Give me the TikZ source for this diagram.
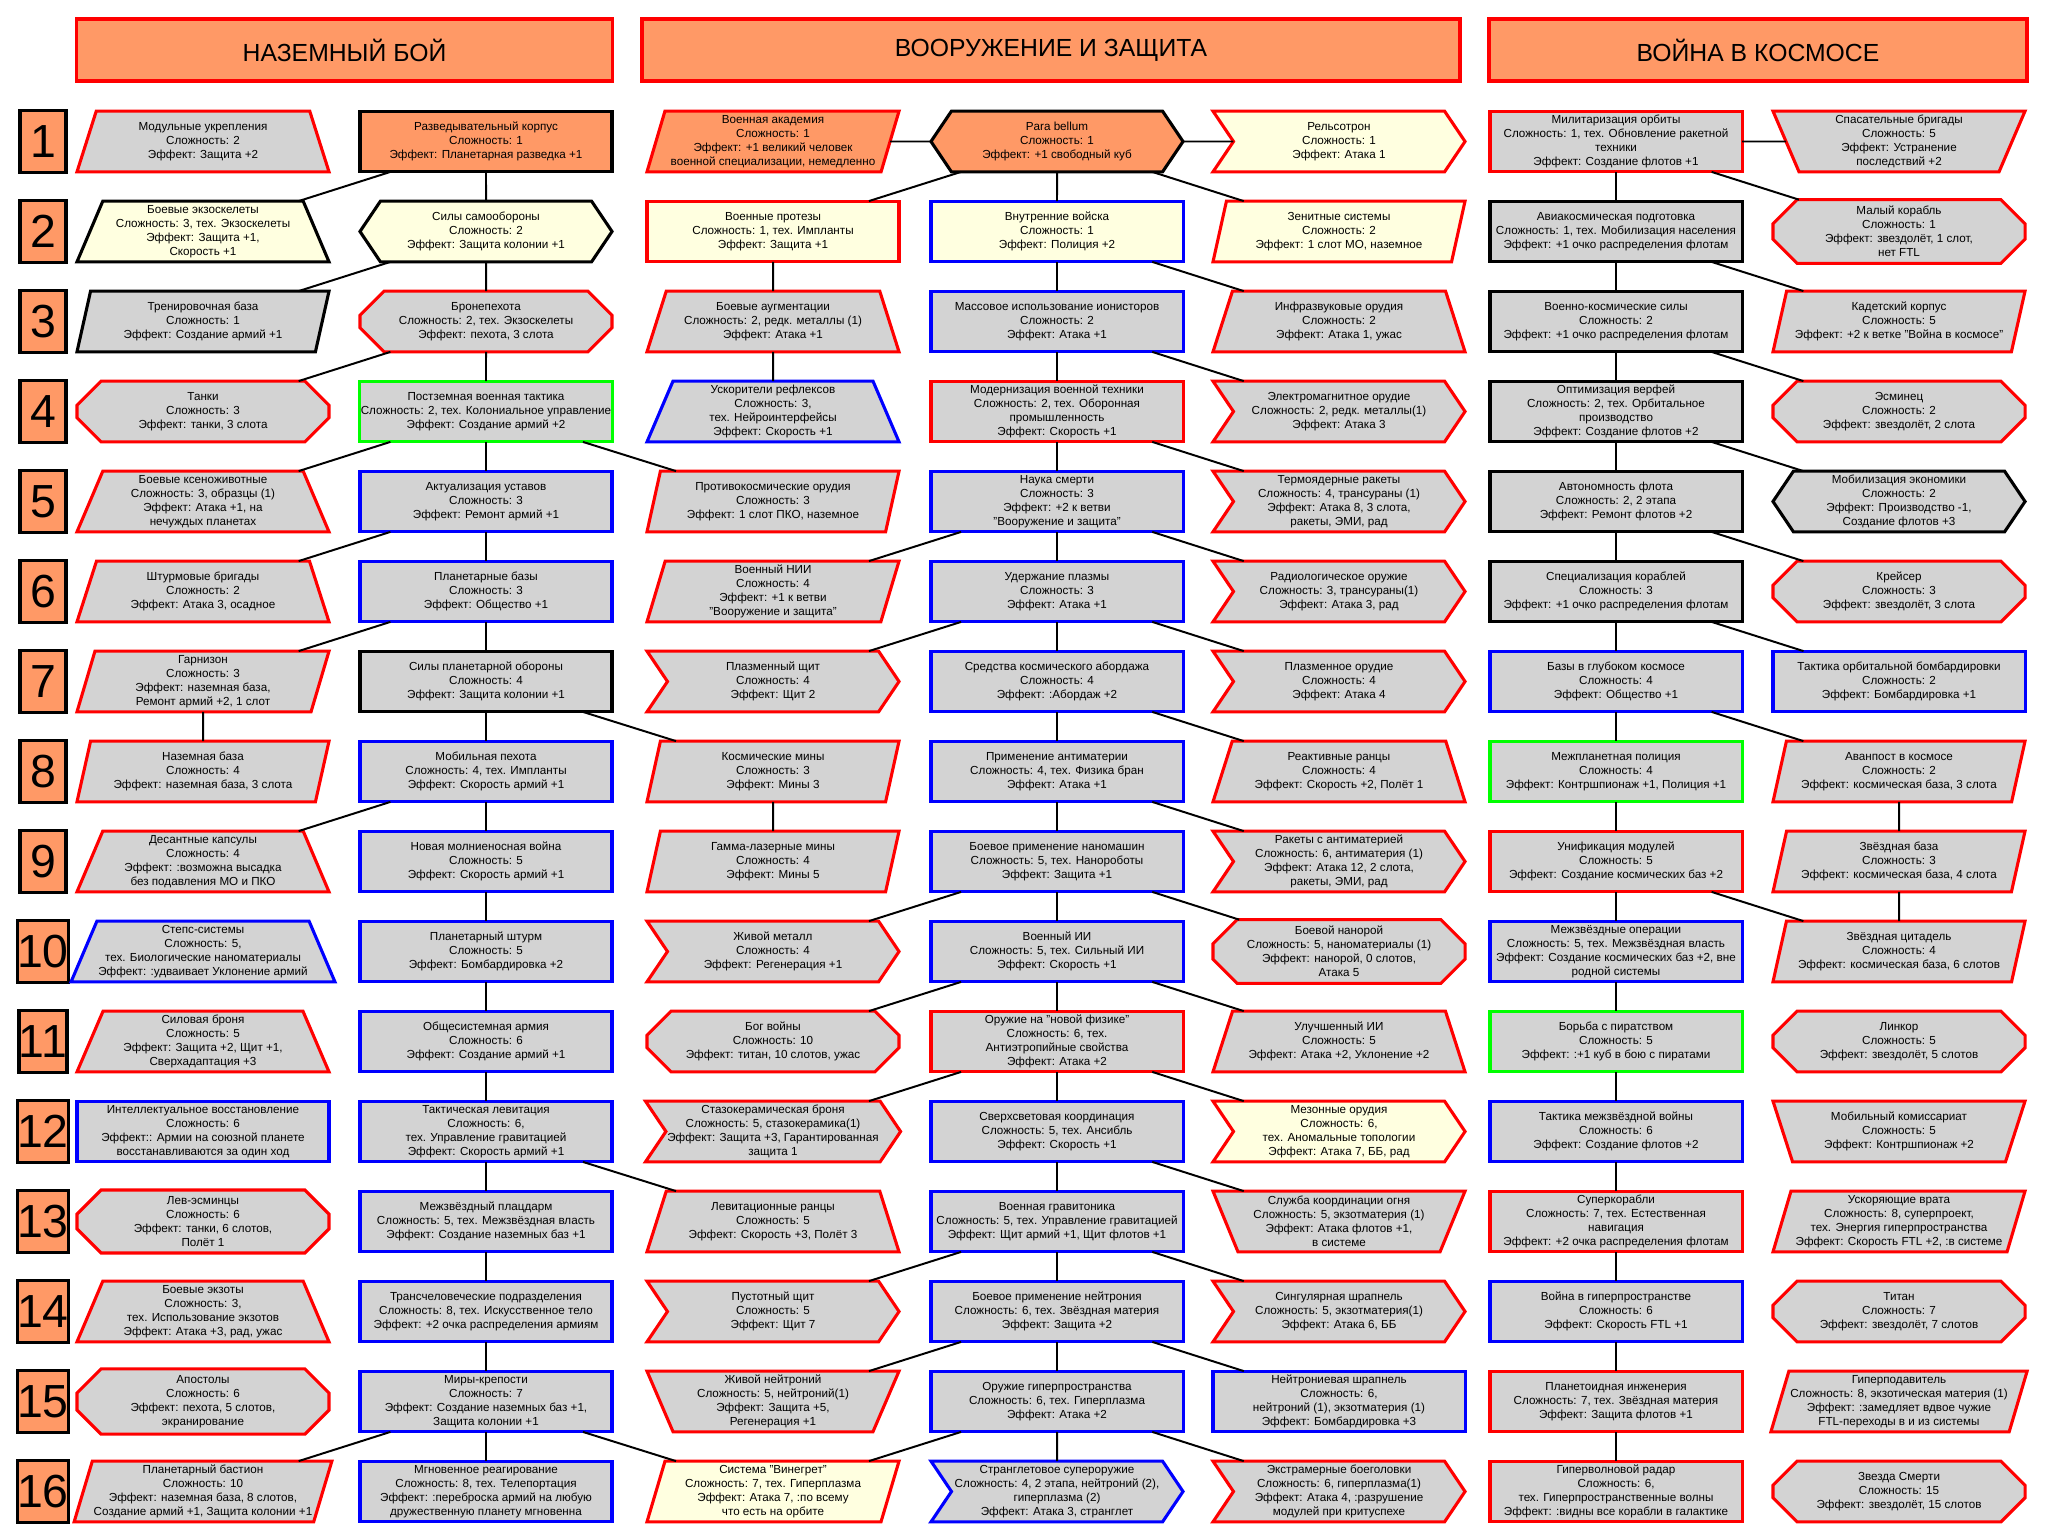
\documentclass[tikz,border=0pt]{standalone}
\usepackage{fontspec}
\setmainfont{Liberation Sans}
\usetikzlibrary{shapes.geometric,shapes.symbols,shapes.misc}

\definecolor{orng}{RGB}{255,153,102}
\definecolor{lgrey}{RGB}{211,211,211}
\definecolor{lyel}{RGB}{255,255,224}
\definecolor{tred}{RGB}{255,0,0}
\definecolor{tblue}{RGB}{0,0,255}
\definecolor{tgreen}{RGB}{0,255,0}
\newcommand{\techfont}{\fontsize{8.3}{10}\selectfont}

\tikzset{
  tech/.style={minimum width=6.3cm, minimum height=1.52cm, inner sep=1pt, outer sep=0pt,
    align=center, font=\techfont, line width=2.2pt, fill=lgrey},
  tbox/.style={tech, rectangle},
  ttrap/.style={tech, trapezium, trapezium left angle=65, trapezium right angle=65, trapezium stretches body},
  titrap/.style={ttrap, shape border rotate=180},
  tpara/.style={tech, trapezium, trapezium left angle=72, trapezium right angle=108, trapezium stretches body},
  thex/.style={tech, signal, signal to=west and east, signal pointer angle=112},
  tchev/.style={tech, signal, signal to=east, signal from=west, signal pointer angle=112},
  toct/.style={tech, chamfered rectangle, chamfered rectangle xsep=0.48cm},
  rd/.style={draw=tred}, bl/.style={draw=tblue}, bk/.style={draw=black}, gn/.style={draw=tgreen},
  ye/.style={fill=lyel}, og/.style={fill=orng},
  link/.style={line width=1.4pt},
  numbox/.style={draw=black, fill=orng, line width=2.4pt, minimum width=1.15cm, minimum height=1.55cm,
    inner sep=0pt, font=\fontsize{33}{36}\selectfont},
  headbox/.style={draw=tred, fill=orng, line width=2.4pt, minimum height=1.55cm,
    font=\fontsize{17.6}{20}\selectfont},
}

\begin{document}
\begin{tikzpicture}[x=0.025cm,y=-0.025cm]

\useasboundingbox (0,0) rectangle (2058,1537);

\def\ro{51.5}; \def\rh{90};
\def\xgs{203}; \def\xgm{486};
\def\xwl{773}; \def\xwm{1057}; \def\xwr{1339};
\def\xsm{1616}; \def\xss{1899};

% headers
\node[headbox, minimum width=13.4cm] (hground) at (344.5,50) {НАЗЕМНЫЙ БОЙ};
\node[headbox, minimum width=20.45cm] (hweapon) at (1051,50) {ВООРУЖЕНИЕ И ЗАЩИТА};
\node[headbox, minimum width=13.45cm] (hspace) at (1758,50) {ВОЙНА В КОСМОСЕ};

% row numbers
\foreach \k in {1,...,16}{
\node[numbox] (n\k) at (43,\ro+\rh*\k) {\k};
}

% ground war
\node[ttrap,rd] (gs1) at (\xgs,\ro+\rh*1) {Модульные укрепления\\Сложность: 2\\Эффект: Защита +2};
\node[ttrap,bk,ye] (gs2) at (\xgs,\ro+\rh*2) {Боевые экзоскелеты\\Сложность: 3, тех. Экзоскелеты\\Эффект: Защита +1,\\Скорость +1};
\node[tpara,bk] (gs3) at (\xgs,\ro+\rh*3) {Тренировочная база\\Сложность: 1\\Эффект: Создание армий +1};
\node[toct,rd] (gs4) at (\xgs,\ro+\rh*4) {Танки\\Сложность: 3\\Эффект: танки, 3 слота};
\node[ttrap,rd] (gs5) at (\xgs,\ro+\rh*5) {Боевые ксеноживотные\\Сложность: 3, образцы (1)\\Эффект: Атака +1, на\\нечуждых планетах};
\node[ttrap,rd] (gs6) at (\xgs,\ro+\rh*6) {Штурмовые бригады\\Сложность: 2\\Эффект: Атака 3, осадное};
\node[tpara,rd] (gs7) at (\xgs,\ro+\rh*7) {Гарнизон\\Сложность: 3\\Эффект: наземная база,\\Ремонт армий +2, 1 слот};
\node[tpara,rd] (gs8) at (\xgs,\ro+\rh*8) {Наземная база\\Сложность: 4\\Эффект: наземная база, 3 слота};
\node[ttrap,rd] (gs9) at (\xgs,\ro+\rh*9) {Десантные капсулы\\Сложность: 4\\Эффект: :возможна высадка\\без подавления МО и ПКО};
\node[ttrap,bl] (gs10) at (\xgs,\ro+\rh*10) {Степс-системы\\Сложность: 5,\\тех. Биологические наноматериалы\\Эффект: :удваивает Уклонение армий};
\node[ttrap,rd] (gs11) at (\xgs,\ro+\rh*11) {Силовая броня\\Сложность: 5\\Эффект: Защита +2, Щит +1,\\Сверхадаптация +3};
\node[tbox,bl] (gs12) at (\xgs,\ro+\rh*12) {Интеллектуальное восстановление\\Сложность: 6\\Эффект:: Армии на союзной планете\\восстанавливаются за один ход};
\node[toct,rd] (gs13) at (\xgs,\ro+\rh*13) {Лев-эсминцы\\Сложность: 6\\Эффект: танки, 6 слотов,\\Полёт 1};
\node[ttrap,rd] (gs14) at (\xgs,\ro+\rh*14) {Боевые экзоты\\Сложность: 3,\\тех. Использование экзотов\\Эффект: Атака +3, рад, ужас};
\node[toct,rd] (gs15) at (\xgs,\ro+\rh*15) {Апостолы\\Сложность: 6\\Эффект: пехота, 5 слотов,\\экранирование};
\node[tpara,rd] (gs16) at (\xgs,\ro+\rh*16) {Планетарный бастион\\Сложность: 10\\Эффект: наземная база, 8 слотов,\\Создание армий +1, Защита колонии +1};

\node[tbox,bk,og] (gm1) at (\xgm,\ro+\rh*1) {Разведывательный корпус\\Сложность: 1\\Эффект: Планетарная разведка +1};
\node[thex,bk,ye] (gm2) at (\xgm,\ro+\rh*2) {Силы самообороны\\Сложность: 2\\Эффект: Защита колонии +1};
\node[toct,rd] (gm3) at (\xgm,\ro+\rh*3) {Бронепехота\\Сложность: 2, тех. Экзоскелеты\\Эффект: пехота, 3 слота};
\node[tbox,gn] (gm4) at (\xgm,\ro+\rh*4) {Постземная военная тактика\\Сложность: 2, тех. Колониальное управление\\Эффект: Создание армий +2};
\node[tbox,bl] (gm5) at (\xgm,\ro+\rh*5) {Актуализация уставов\\Сложность: 3\\Эффект: Ремонт армий +1};
\node[tbox,bl] (gm6) at (\xgm,\ro+\rh*6) {Планетарные базы\\Сложность: 3\\Эффект: Общество +1};
\node[tbox,bk] (gm7) at (\xgm,\ro+\rh*7) {Силы планетарной обороны\\Сложность: 4\\Эффект: Защита колонии +1};
\node[tbox,bl] (gm8) at (\xgm,\ro+\rh*8) {Мобильная пехота\\Сложность: 4, тех. Импланты\\Эффект: Скорость армий +1};
\node[tbox,bl] (gm9) at (\xgm,\ro+\rh*9) {Новая молниеносная война\\Сложность: 5\\Эффект: Скорость армий +1};
\node[tbox,bl] (gm10) at (\xgm,\ro+\rh*10) {Планетарный штурм\\Сложность: 5\\Эффект: Бомбардировка +2};
\node[tbox,bl] (gm11) at (\xgm,\ro+\rh*11) {Общесистемная армия\\Сложность: 6\\Эффект: Создание армий +1};
\node[tbox,bl] (gm12) at (\xgm,\ro+\rh*12) {Тактическая левитация\\Сложность: 6,\\тех. Управление гравитацией\\Эффект: Скорость армий +1};
\node[tbox,bl] (gm13) at (\xgm,\ro+\rh*13) {Межзвёздный плацдарм\\Сложность: 5, тех. Межзвёздная власть\\Эффект: Создание наземных баз +1};
\node[tbox,bl] (gm14) at (\xgm,\ro+\rh*14) {Трансчеловеческие подразделения\\Сложность: 8, тех. Искусственное тело\\Эффект: +2 очка распределения армиям};
\node[tbox,bl] (gm15) at (\xgm,\ro+\rh*15) {Миры-крепости\\Сложность: 7\\Эффект: Создание наземных баз +1,\\Защита колонии +1};
\node[tbox,bl] (gm16) at (\xgm,\ro+\rh*16) {Мгновенное реагирование\\Сложность: 8, тех. Телепортация\\Эффект: :переброска армий на любую\\дружественную планету мгновенна};

% weapons and defence
\node[tpara,rd,og] (wl1) at (\xwl,\ro+\rh*1) {Военная академия\\Сложность: 1\\Эффект: +1 великий человек\\военной специализации, немедленно};
\node[tbox,rd,ye] (wl2) at (\xwl,\ro+\rh*2) {Военные протезы\\Сложность: 1, тех. Импланты\\Эффект: Защита +1};
\node[ttrap,rd] (wl3) at (\xwl,\ro+\rh*3) {Боевые аугментации\\Сложность: 2, редк. металлы (1)\\Эффект: Атака +1};
\node[ttrap,bl] (wl4) at (\xwl,\ro+\rh*4) {Ускорители рефлексов\\Сложность: 3,\\тех. Нейроинтерфейсы\\Эффект: Скорость +1};
\node[tpara,rd] (wl5) at (\xwl,\ro+\rh*5) {Противокосмические орудия\\Сложность: 3\\Эффект: 1 слот ПКО, наземное};
\node[tpara,rd] (wl6) at (\xwl,\ro+\rh*6) {Военный НИИ\\Сложность: 4\\Эффект: +1 к ветви\\"Вооружение и защита"};
\node[tchev,rd] (wl7) at (\xwl,\ro+\rh*7) {Плазменный щит\\Сложность: 4\\Эффект: Щит 2};
\node[tpara,rd] (wl8) at (\xwl,\ro+\rh*8) {Космические мины\\Сложность: 3\\Эффект: Мины 3};
\node[tpara,rd] (wl9) at (\xwl,\ro+\rh*9) {Гамма-лазерные мины\\Сложность: 4\\Эффект: Мины 5};
\node[tchev,rd] (wl10) at (\xwl,\ro+\rh*10) {Живой металл\\Сложность: 4\\Эффект: Регенерация +1};
\node[toct,rd] (wl11) at (\xwl,\ro+\rh*11) {Бог войны\\Сложность: 10\\Эффект: титан, 10 слотов, ужас};
\node[tchev,rd] (wl12) at (\xwl,\ro+\rh*12) {Стазокерамическая броня\\Сложность: 5, стазокерамика(1)\\Эффект: Защита +3, Гарантированная\\защита 1};
\node[ttrap,rd] (wl13) at (\xwl,\ro+\rh*13) {Левитационные ранцы\\Сложность: 5\\Эффект: Скорость +3, Полёт 3};
\node[tchev,rd] (wl14) at (\xwl,\ro+\rh*14) {Пустотный щит\\Сложность: 5\\Эффект: Щит 7};
\node[titrap,rd] (wl15) at (\xwl,\ro+\rh*15) {Живой нейтроний\\Сложность: 5, нейтроний(1)\\Эффект: Защита +5,\\Регенерация +1};
\node[tpara,rd,ye] (wl16) at (\xwl,\ro+\rh*16) {Система "Винегрет"\\Сложность: 7, тех. Гиперплазма\\Эффект: Атака 7, :по всему\\что есть на орбите};

\node[thex,bk,og] (wm1) at (\xwm,\ro+\rh*1) {Para bellum\\Сложность: 1\\Эффект: +1 свободный куб};
\node[tbox,bl,ye] (wm2) at (\xwm,\ro+\rh*2) {Внутренние войска\\Сложность: 1\\Эффект: Полиция +2};
\node[tbox,bl] (wm3) at (\xwm,\ro+\rh*3) {Массовое использование ионисторов\\Сложность: 2\\Эффект: Атака +1};
\node[tbox,rd] (wm4) at (\xwm,\ro+\rh*4) {Модернизация военной техники\\Сложность: 2, тех. Оборонная\\промышленность\\Эффект: Скорость +1};
\node[tbox,bl] (wm5) at (\xwm,\ro+\rh*5) {Наука смерти\\Сложность: 3\\Эффект: +2 к ветви\\"Вооружение и защита"};
\node[tbox,bl] (wm6) at (\xwm,\ro+\rh*6) {Удержание плазмы\\Сложность: 3\\Эффект: Атака +1};
\node[tbox,bl] (wm7) at (\xwm,\ro+\rh*7) {Средства космического абордажа\\Сложность: 4\\Эффект: :Абордаж +2};
\node[tbox,bl] (wm8) at (\xwm,\ro+\rh*8) {Применение антиматерии\\Сложность: 4, тех. Физика бран\\Эффект: Атака +1};
\node[tbox,bl] (wm9) at (\xwm,\ro+\rh*9) {Боевое применение наномашин\\Сложность: 5, тех. Нанороботы\\Эффект: Защита +1};
\node[tbox,bl] (wm10) at (\xwm,\ro+\rh*10) {Военный ИИ\\Сложность: 5, тех. Сильный ИИ\\Эффект: Скорость +1};
\node[tbox,rd] (wm11) at (\xwm,\ro+\rh*11) {Оружие на "новой физике"\\Сложность: 6, тех.\\Антиэтропийные свойства\\Эффект: Атака +2};
\node[tbox,bl] (wm12) at (\xwm,\ro+\rh*12) {Сверхсветовая координация\\Сложность: 5, тех. Ансибль\\Эффект: Скорость +1};
\node[tbox,bl] (wm13) at (\xwm,\ro+\rh*13) {Военная гравитоника\\Сложность: 5, тех. Управление гравитацией\\Эффект: Щит армий +1, Щит флотов +1};
\node[tbox,bl] (wm14) at (\xwm,\ro+\rh*14) {Боевое применение нейтрония\\Сложность: 6, тех. Звёздная материя\\Эффект: Защита +2};
\node[tbox,bl] (wm15) at (\xwm,\ro+\rh*15) {Оружие гиперпространства\\Сложность: 6, тех. Гиперплазма\\Эффект: Атака +2};
\node[tchev,bl] (wm16) at (\xwm,\ro+\rh*16) {Странглетовое супероружие\\Сложность: 4, 2 этапа, нейтроний (2),\\гиперплазма (2)\\Эффект: Атака 3, странглет};

\node[tchev,rd,ye] (wr1) at (\xwr,\ro+\rh*1) {Рельсотрон\\Сложность: 1\\Эффект: Атака 1};
\node[tpara,rd,ye] (wr2) at (\xwr,\ro+\rh*2) {Зенитные системы\\Сложность: 2\\Эффект: 1 слот МО, наземное};
\node[ttrap,rd] (wr3) at (\xwr,\ro+\rh*3) {Инфразвуковые орудия\\Сложность: 2\\Эффект: Атака 1, ужас};
\node[tchev,rd] (wr4) at (\xwr,\ro+\rh*4) {Электромагнитное орудие\\Сложность: 2, редк. металлы(1)\\Эффект: Атака 3};
\node[tchev,rd] (wr5) at (\xwr,\ro+\rh*5) {Термоядерные ракеты\\Сложность: 4, трансураны (1)\\Эффект: Атака 8, 3 слота,\\ракеты, ЭМИ, рад};
\node[tchev,rd] (wr6) at (\xwr,\ro+\rh*6) {Радиологическое оружие\\Сложность: 3, трансураны(1)\\Эффект: Атака 3, рад};
\node[tchev,rd] (wr7) at (\xwr,\ro+\rh*7) {Плазменное орудие\\Сложность: 4\\Эффект: Атака 4};
\node[ttrap,rd] (wr8) at (\xwr,\ro+\rh*8) {Реактивные ранцы\\Сложность: 4\\Эффект: Скорость +2, Полёт 1};
\node[tchev,rd] (wr9) at (\xwr,\ro+\rh*9) {Ракеты с антиматерией\\Сложность: 6, антиматерия (1)\\Эффект: Атака 12, 2 слота,\\ракеты, ЭМИ, рад};
\node[toct,rd] (wr10) at (\xwr,\ro+\rh*10) {Боевой нанорой\\Сложность: 5, наноматериалы (1)\\Эффект: нанорой, 0 слотов,\\Атака 5};
\node[ttrap,rd] (wr11) at (\xwr,\ro+\rh*11) {Улучшенный ИИ\\Сложность: 5\\Эффект: Атака +2, Уклонение +2};
\node[tchev,rd,ye] (wr12) at (\xwr,\ro+\rh*12) {Мезонные орудия\\Сложность: 6,\\тех. Аномальные топологии\\Эффект: Атака 7, ББ, рад};
\node[titrap,rd] (wr13) at (\xwr,\ro+\rh*13) {Служба координации огня\\Сложность: 5, экзотматерия (1)\\Эффект: Атака флотов +1,\\в системе};
\node[tchev,rd] (wr14) at (\xwr,\ro+\rh*14) {Сингулярная шрапнель\\Сложность: 5, экзотматерия(1)\\Эффект: Атака 6, ББ};
\node[tbox,bl] (wr15) at (\xwr,\ro+\rh*15) {Нейтрониевая шрапнель\\Сложность: 6,\\нейтроний (1), экзотматерия (1)\\Эффект: Бомбардировка +3};
\node[tchev,rd] (wr16) at (\xwr,\ro+\rh*16) {Экстрамерные боеголовки\\Сложность: 6, гиперплазма(1)\\Эффект: Атака 4, :разрушение\\модулей при критуспехе};

% space war
\node[tbox,rd] (sm1) at (\xsm,\ro+\rh*1) {Милитаризация орбиты\\Сложность: 1, тех. Обновление ракетной\\техники\\Эффект: Создание флотов +1};
\node[tbox,bk] (sm2) at (\xsm,\ro+\rh*2) {Авиакосмическая подготовка\\Сложность: 1, тех. Мобилизация населения\\Эффект: +1 очко распределения флотам};
\node[tbox,bk] (sm3) at (\xsm,\ro+\rh*3) {Военно-космические силы\\Сложность: 2\\Эффект: +1 очко распределения флотам};
\node[tbox,bk] (sm4) at (\xsm,\ro+\rh*4) {Оптимизация верфей\\Сложность: 2, тех. Орбитальное\\производство\\Эффект: Создание флотов +2};
\node[tbox,bk] (sm5) at (\xsm,\ro+\rh*5) {Автономность флота\\Сложность: 2, 2 этапа\\Эффект: Ремонт флотов +2};
\node[tbox,bk] (sm6) at (\xsm,\ro+\rh*6) {Специализация кораблей\\Сложность: 3\\Эффект: +1 очко распределения флотам};
\node[tbox,bl] (sm7) at (\xsm,\ro+\rh*7) {Базы в глубоком космосе\\Сложность: 4\\Эффект: Общество +1};
\node[tbox,gn] (sm8) at (\xsm,\ro+\rh*8) {Межпланетная полиция\\Сложность: 4\\Эффект: Контршпионаж +1, Полиция +1};
\node[tbox,rd] (sm9) at (\xsm,\ro+\rh*9) {Унификация модулей\\Сложность: 5\\Эффект: Создание космических баз +2};
\node[tbox,bl] (sm10) at (\xsm,\ro+\rh*10) {Межзвёздные операции\\Сложность: 5, тех. Межзвёздная власть\\Эффект: Создание космических баз +2, вне\\родной системы};
\node[tbox,gn] (sm11) at (\xsm,\ro+\rh*11) {Борьба с пиратством\\Сложность: 5\\Эффект: :+1 куб в бою с пиратами};
\node[tbox,bl] (sm12) at (\xsm,\ro+\rh*12) {Тактика межзвёздной войны\\Сложность: 6\\Эффект: Создание флотов +2};
\node[tbox,rd] (sm13) at (\xsm,\ro+\rh*13) {Суперкорабли\\Сложность: 7, тех. Естественная\\навигация\\Эффект: +2 очка распределения флотам};
\node[tbox,bl] (sm14) at (\xsm,\ro+\rh*14) {Война в гиперпространстве\\Сложность: 6\\Эффект: Скорость FTL +1};
\node[tbox,rd] (sm15) at (\xsm,\ro+\rh*15) {Планетоидная инженерия\\Сложность: 7, тех. Звёздная материя\\Эффект: Защита флотов +1};
\node[tbox,rd] (sm16) at (\xsm,\ro+\rh*16) {Гиперволновой радар\\Сложность: 6,\\тех. Гиперпространственные волны\\Эффект: :видны все корабли в галактике};

\node[titrap,rd] (ss1) at (\xss,\ro+\rh*1) {Спасательные бригады\\Сложность: 5\\Эффект: Устранение\\последствий +2};
\node[toct,rd] (ss2) at (\xss,\ro+\rh*2) {Малый корабль\\Сложность: 1\\Эффект: звездолёт, 1 слот,\\нет FTL};
\node[tpara,rd] (ss3) at (\xss,\ro+\rh*3) {Кадетский корпус\\Сложность: 5\\Эффект: +2 к ветке "Война в космосе"};
\node[toct,rd] (ss4) at (\xss,\ro+\rh*4) {Эсминец\\Сложность: 2\\Эффект: звездолёт, 2 слота};
\node[thex,bk] (ss5) at (\xss,\ro+\rh*5) {Мобилизация экономики\\Сложность: 2\\Эффект: Производство -1,\\Создание флотов +3};
\node[toct,rd] (ss6) at (\xss,\ro+\rh*6) {Крейсер\\Сложность: 3\\Эффект: звездолёт, 3 слота};
\node[tbox,bl] (ss7) at (\xss,\ro+\rh*7) {Тактика орбитальной бомбардировки\\Сложность: 2\\Эффект: Бомбардировка +1};
\node[tpara,rd] (ss8) at (\xss,\ro+\rh*8) {Аванпост в космосе\\Сложность: 2\\Эффект: космическая база, 3 слота};
\node[tpara,rd] (ss9) at (\xss,\ro+\rh*9) {Звёздная база\\Сложность: 3\\Эффект: космическая база, 4 слота};
\node[tpara,rd] (ss10) at (\xss,\ro+\rh*10) {Звёздная цитадель\\Сложность: 4\\Эффект: космическая база, 6 слотов};
\node[toct,rd] (ss11) at (\xss,\ro+\rh*11) {Линкор\\Сложность: 5\\Эффект: звездолёт, 5 слотов};
\node[titrap,rd] (ss12) at (\xss,\ro+\rh*12) {Мобильный комиссариат\\Сложность: 5\\Эффект: Контршпионаж +2};
\node[tpara,rd] (ss13) at (\xss,\ro+\rh*13) {Ускоряющие врата\\Сложность: 8, суперпроект,\\тех. Энергия гиперпространства\\Эффект: Скорость FTL +2, :в системе};
\node[toct,rd] (ss14) at (\xss,\ro+\rh*14) {Титан\\Сложность: 7\\Эффект: звездолёт, 7 слотов};
\node[tpara,rd] (ss15) at (\xss,\ro+\rh*15) {Гиперподавитель\\Сложность: 8, экзотическая материя (1)\\Эффект: :замедляет вдвое чужие\\FTL-переходы в и из системы};
\node[toct,rd] (ss16) at (\xss,\ro+\rh*16) {Звезда Смерти\\Сложность: 15\\Эффект: звездолёт, 15 слотов};

% links
\foreach \i in {1,...,15}{
\pgfmathtruncatemacro\j{\i+1}
\draw[link] (gm\i) -- (gm\j);
\draw[link] (wm\i) -- (wm\j);
\draw[link] (sm\i) -- (sm\j);
\draw[link] (wm\i) -- (wr\j);
}
\foreach \i in {1,...,6,8,...,15}{
\pgfmathtruncatemacro\j{\i+1}
\draw[link] (gm\i) -- (gs\j);
}
\foreach \i in {4,7,12,15}{
\pgfmathtruncatemacro\j{\i+1}
\draw[link] (gm\i) -- (wl\j);
}
\foreach \i in {1,5,6,9,10,11,13,14,15}{
\pgfmathtruncatemacro\j{\i+1}
\draw[link] (wm\i) -- (wl\j);
}
\foreach \i in {1,...,7,9,...,15}{
\pgfmathtruncatemacro\j{\i+1}
\draw[link] (sm\i) -- (ss\j);
}
\draw[link] (gs7) -- (gs8);
\draw[link] (wl1) -- (wm1) -- (wr1);
\draw[link] (wl2) -- (wl3) -- (wl4);
\draw[link] (wl8) -- (wl9);
\draw[link] (sm1) -- (ss1);
\draw[link] (ss8) -- (ss9) -- (ss10);

\end{tikzpicture}
\end{document}
